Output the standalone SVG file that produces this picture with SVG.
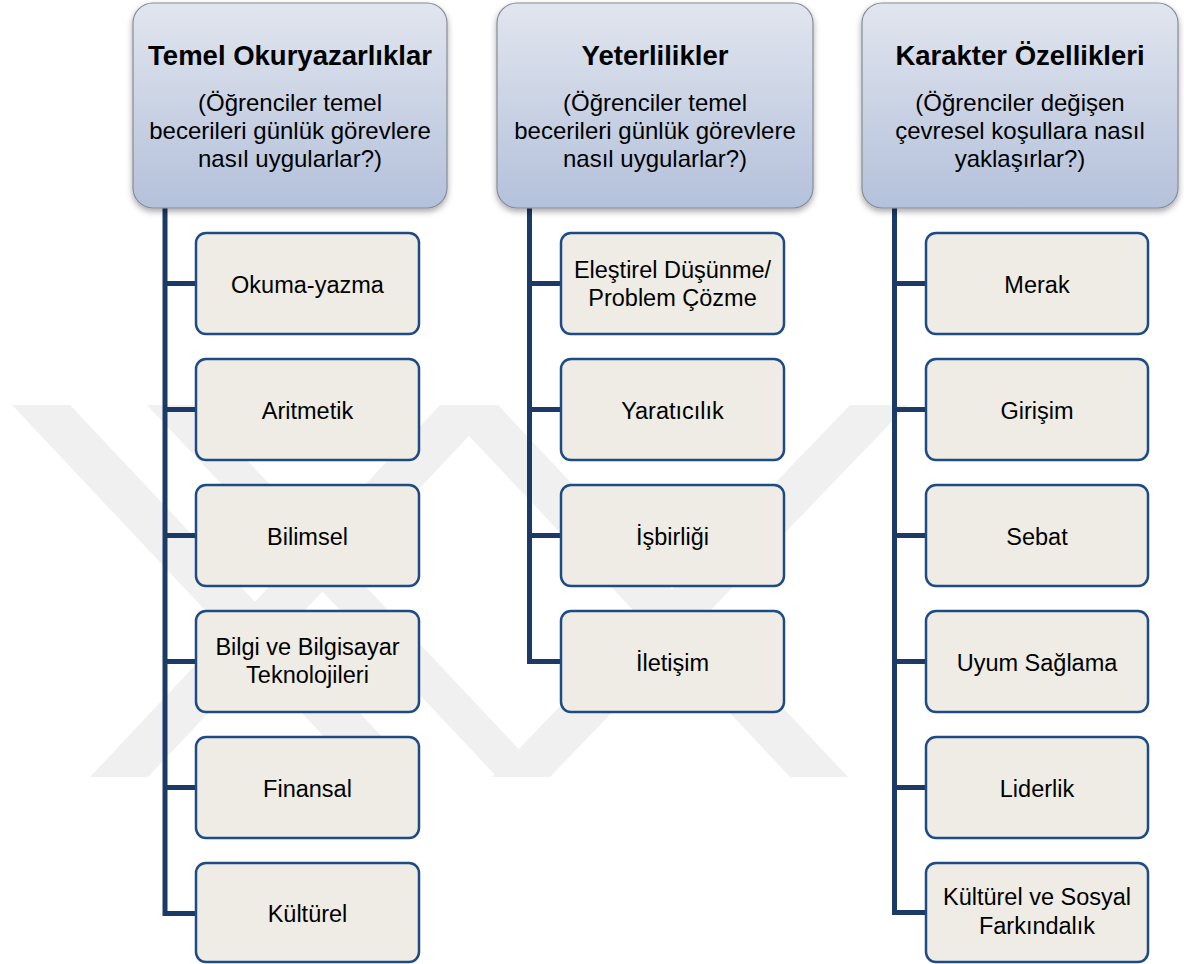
<svg xmlns="http://www.w3.org/2000/svg" width="1184" height="964" viewBox="0 0 1184 964">
  <defs>
    <linearGradient id="hdrGrad" x1="0" y1="0" x2="0" y2="1">
      <stop offset="0" stop-color="#e1e5ee"/>
      <stop offset="1" stop-color="#b4c1db"/>
    </linearGradient>
    <filter id="shadow" x="-10%" y="-10%" width="120%" height="125%">
      <feDropShadow dx="0" dy="3" stdDeviation="3" flood-color="#000" flood-opacity="0.35"/>
    </filter>
  </defs>
  <style>
    .hdr { fill: url(#hdrGrad); stroke: #858b96; stroke-width: 1.2; filter: url(#shadow); }
    .title { font-family: "Liberation Sans", Arial, sans-serif; font-weight: bold; font-size: 27.5px; fill: #000; text-anchor: middle; }
    .sub { font-family: "Liberation Sans", Arial, sans-serif; font-size: 24px; fill: #000; text-anchor: middle; }
    .box { fill: #eeece5; stroke: #1f4b85; stroke-width: 2.5; }
    .lbl { font-family: "Liberation Sans", Arial, sans-serif; font-size: 23.5px; fill: #000; text-anchor: middle; }
    .conn { fill: none; stroke: #1b3a66; stroke-width: 5; stroke-linejoin: miter; }
    .wm { fill: #f0f0f0; }
  </style>
  <rect x="0" y="0" width="1184" height="964" fill="#ffffff"/>

  <g id="watermark">
    <polygon class="wm" points="12,405 70,405 420,777 362,777"/>
    <polygon class="wm" points="147,405 195,405 545,777 497,777"/>
    <polygon class="wm" points="440,405 498,405 148,777 90,777"/>
    <polygon class="wm" points="440,405 498,405 848,777 790,777"/>
    <polygon class="wm" points="850,405 908,405 550,777 492,777"/>
  </g>

  <g id="connectors">
    <path class="conn" d="M165,208 V913.5 H196 M165,283.5 H196 M165,409.5 H196 M165,535.5 H196 M165,661.5 H196 M165,787.5 H196"/>
    <path class="conn" d="M529.5,208 V661.5 H561 M529.5,283.5 H561 M529.5,409.5 H561 M529.5,535.5 H561"/>
    <path class="conn" d="M894.5,208 V912.5 H926 M894.5,283.5 H926 M894.5,409.5 H926 M894.5,535.5 H926 M894.5,661.5 H926 M894.5,787.5 H926"/>
  </g>

  <g id="hdr-temel">
    <rect class="hdr" x="133" y="3" width="314" height="205" rx="20"/>
    <text class="title" x="290" y="65">Temel Okuryazarlıklar</text>
    <text class="sub" x="290" y="111">(Öğrenciler temel</text>
    <text class="sub" x="290" y="139">becerileri günlük görevlere</text>
    <text class="sub" x="290" y="167">nasıl uygularlar?)</text>
  </g>
  <g id="hdr-yeterlilikler">
    <rect class="hdr" x="497" y="3" width="316" height="205" rx="20"/>
    <text class="title" x="655" y="65">Yeterlilikler</text>
    <text class="sub" x="655" y="111">(Öğrenciler temel</text>
    <text class="sub" x="655" y="139">becerileri günlük görevlere</text>
    <text class="sub" x="655" y="167">nasıl uygularlar?)</text>
  </g>
  <g id="hdr-karakter">
    <rect class="hdr" x="862" y="3" width="316" height="205" rx="20"/>
    <text class="title" x="1020" y="65">Karakter Özellikleri</text>
    <text class="sub" x="1020" y="111">(Öğrenciler değişen</text>
    <text class="sub" x="1020" y="139">çevresel koşullara nasıl</text>
    <text class="sub" x="1020" y="167">yaklaşırlar?)</text>
  </g>

  <g id="okuma-yazma"><rect class="box" x="196" y="233" width="223" height="101" rx="10"/><text class="lbl" x="307.5" y="292.5">Okuma-yazma</text></g>
  <g id="aritmetik"><rect class="box" x="196" y="359" width="223" height="101" rx="10"/><text class="lbl" x="307.5" y="418.5">Aritmetik</text></g>
  <g id="bilimsel"><rect class="box" x="196" y="485" width="223" height="101" rx="10"/><text class="lbl" x="307.5" y="544.5">Bilimsel</text></g>
  <g id="bilgi"><rect class="box" x="196" y="611" width="223" height="101" rx="10"/><text class="lbl" x="307.5" y="655">Bilgi ve Bilgisayar</text><text class="lbl" x="307.5" y="683">Teknolojileri</text></g>
  <g id="finansal"><rect class="box" x="196" y="737" width="223" height="101" rx="10"/><text class="lbl" x="307.5" y="796.5">Finansal</text></g>
  <g id="kulturel"><rect class="box" x="196" y="863" width="223" height="99" rx="10"/><text class="lbl" x="307.5" y="921.5">Kültürel</text></g>

  <g id="elestirel"><rect class="box" x="561" y="233" width="223" height="101" rx="10"/><text class="lbl" x="672.5" y="278">Eleştirel Düşünme/</text><text class="lbl" x="672.5" y="306">Problem Çözme</text></g>
  <g id="yaraticilik"><rect class="box" x="561" y="359" width="223" height="101" rx="10"/><text class="lbl" x="672.5" y="418.5">Yaratıcılık</text></g>
  <g id="isbirligi"><rect class="box" x="561" y="485" width="223" height="101" rx="10"/><text class="lbl" x="672.5" y="544.5">İşbirliği</text></g>
  <g id="iletisim"><rect class="box" x="561" y="611" width="223" height="101" rx="10"/><text class="lbl" x="672.5" y="670.5">İletişim</text></g>

  <g id="merak"><rect class="box" x="926" y="233" width="222" height="101" rx="10"/><text class="lbl" x="1037" y="292.5">Merak</text></g>
  <g id="girisim"><rect class="box" x="926" y="359" width="222" height="101" rx="10"/><text class="lbl" x="1037" y="418.5">Girişim</text></g>
  <g id="sebat"><rect class="box" x="926" y="485" width="222" height="101" rx="10"/><text class="lbl" x="1037" y="544.5">Sebat</text></g>
  <g id="uyum"><rect class="box" x="926" y="611" width="222" height="101" rx="10"/><text class="lbl" x="1037" y="670.5">Uyum Sağlama</text></g>
  <g id="liderlik"><rect class="box" x="926" y="737" width="222" height="101" rx="10"/><text class="lbl" x="1037" y="796.5">Liderlik</text></g>
  <g id="kulturel-sosyal"><rect class="box" x="926" y="863" width="222" height="99" rx="10"/><text class="lbl" x="1037" y="905">Kültürel ve Sosyal</text><text class="lbl" x="1037" y="934">Farkındalık</text></g>
</svg>
